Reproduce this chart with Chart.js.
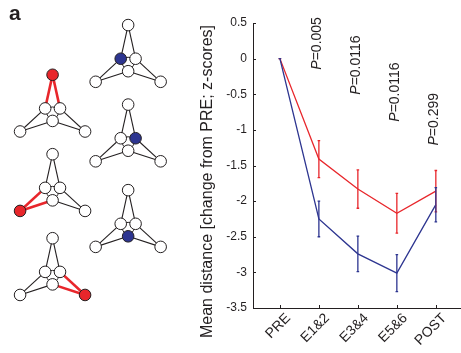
<!DOCTYPE html>
<html><head><meta charset="utf-8">
<script src="https://cdn.jsdelivr.net/npm/chart.js@4.4.0/dist/chart.umd.min.js"></script>
<style>
html,body{margin:0;padding:0;background:#fff;}
body{width:461px;height:353px;position:relative;overflow:hidden;font-family:"Liberation Sans",Arial,sans-serif;}
#panel{position:absolute;left:9px;top:1px;font:bold 21px "Liberation Sans",Arial,sans-serif;color:#231f20;}
#diag{position:absolute;left:0;top:0;}
#main{position:absolute;left:190px;top:0;}
</style></head><body>
<canvas id="diag" width="190" height="353"></canvas>
<canvas id="main" width="271" height="353"></canvas>
<div id="panel">a</div>
<script>
// ---- data ----
const categories = ['PRE', 'E1&2', 'E3&4', 'E5&6', 'POST'];
const redMean = [0, -1.41, -1.83, -2.17, -1.86];
const redErr = [0, 0.26, 0.27, 0.28, 0.29];
const blueMean = [0, -2.25, -2.74, -3.01, -2.05];
const blueErr = [0, 0.25, 0.25, 0.26, 0.24];
const yTicks = [0.5, 0, -0.5, -1, -1.5, -2, -2.5, -3, -3.5];
const yTitle = 'Mean distance [change from PRE; z-scores]';
const pValues = ['0.005', '0.0116', '0.0116', '0.299'];
const pCat = [1, 2, 3, 4];
const pY = [-0.155, -0.506, -0.885, -1.22];

// diagram layout (graph template + placements)
const nodeNames = ['T', 'BL', 'BR', 'C', 'L', 'R', 'B'];
const nodeDX = [0, -35, 35, 0, -8, 8, 0];
const nodeDY = [0, 59, 59, 39.5, 35, 35, 48];
const edges = [['T','L'],['T','R'],['BL','L'],['BL','B'],['BR','R'],['BR','B'],['L','C'],['R','C'],['B','C'],['L','R'],['L','B'],['R','B']];
const diagX = [49.3, 49.3, 49.3, 130.7, 130.7, 130.7];
const diagY = [70.7, 153.3, 240.7, 19, 101.7, 190.7];
const diagHighlight = ['T', 'BL', 'BR', 'L', 'R', 'B'];
const diagEdges = [['T-L', 'T-R'], ['BL-L', 'BL-B'], ['BR-R', 'BR-B'], ['L-R', 'L-B'], ['L-R', 'R-B'], ['L-B', 'R-B']];
const diagKind = ['red', 'red', 'red', 'blue', 'blue', 'blue'];

const RED = '#e8262b', BLUE = '#2d3590', INK = '#231f20';
const FONT = '"Liberation Sans", Arial, Helvetica, sans-serif';

// ---- diagrams ----
const dsets = [];
diagX.forEach((ox, d) => {
  const oy = diagY[d];
  const pos = n => { const i = nodeNames.indexOf(n); return {x: ox + nodeDX[i], y: oy + nodeDY[i]}; };
  const hl = diagHighlight[d];
  const col = diagKind[d] === 'red' ? RED : BLUE;
  edges.forEach(([a, b]) => {
    const isHl = diagEdges[d].includes(a + '-' + b);
    dsets.push({type: 'scatter', data: [pos(a), pos(b)], showLine: true, pointRadius: 0,
      borderColor: isHl ? col : INK, borderWidth: isHl ? (diagKind[d] === 'red' ? 2.6 : 2) : 1.1,
      order: isHl ? 1 : 2, clip: false});
  });
  dsets.push({type: 'scatter', data: nodeNames.map(pos), showLine: false, pointRadius: 5.8,
    pointBackgroundColor: nodeNames.map(n => n === hl ? col : '#fff'),
    pointBorderColor: INK, pointBorderWidth: 1, order: 0, clip: false});
});
new Chart(document.getElementById('diag'), {
  type: 'scatter', data: {datasets: dsets},
  options: {responsive: false, animation: false, events: [],
    plugins: {legend: {display: false}, tooltip: {enabled: false}},
    layout: {padding: 0},
    scales: {x: {type: 'linear', min: 0, max: 190, display: false},
             y: {type: 'linear', min: 0, max: 353, reverse: true, display: false}}}
});

// ---- main chart ----
const extras = {
  id: 'extras',
  afterDatasetsDraw(chart) {
    const ctx = chart.ctx, xs = chart.scales.x, ys = chart.scales.y;
    ctx.save();
    // inward ticks
    ctx.strokeStyle = INK; ctx.lineWidth = 1;
    yTicks.forEach(v => { const py = Math.round(ys.getPixelForValue(v)) + 0.5;
      ctx.beginPath(); ctx.moveTo(xs.left, py); ctx.lineTo(xs.left + 3, py); ctx.stroke(); });
    categories.forEach((c, i) => { const px = Math.round(xs.getPixelForValue(i + 1)) + 0.5;
      ctx.beginPath(); ctx.moveTo(px, ys.bottom); ctx.lineTo(px, ys.bottom - 3); ctx.stroke(); });
    // error bars
    const bars = (mean, err, col) => {
      ctx.strokeStyle = col; ctx.lineWidth = 1.3;
      mean.forEach((m, i) => {
        const px = xs.getPixelForValue(i + 1);
        const y1 = ys.getPixelForValue(m + err[i]), y2 = ys.getPixelForValue(m - err[i]);
        ctx.beginPath(); ctx.moveTo(px, y1); ctx.lineTo(px, y2);
        ctx.moveTo(px - 1.3, y1); ctx.lineTo(px + 1.3, y1);
        ctx.moveTo(px - 1.3, y2); ctx.lineTo(px + 1.3, y2); ctx.stroke();
      });
    };
    bars(redMean, redErr, RED);
    bars(blueMean, blueErr, BLUE);
    ctx.restore();
  },
  afterDraw(chart) {
    const ctx = chart.ctx, xs = chart.scales.x, ys = chart.scales.y;
    ctx.save();
    ctx.fillStyle = INK;
    // rotated category labels
    categories.forEach((c, i) => {
      const px = xs.getPixelForValue(i + 1);
      ctx.save(); ctx.translate(px + 8.5, ys.bottom + 8); ctx.rotate(-Math.PI / 4);
      ctx.textAlign = 'right'; ctx.textBaseline = 'middle';
      ctx.font = '14px ' + FONT; ctx.fillText(c, 0, 0);
      ctx.restore();
    });
    pValues.forEach((p, k) => {
      const px = xs.getPixelForValue(pCat[k] + 1) - 1.5;
      const py = ys.getPixelForValue(pY[k]);
      ctx.save(); ctx.translate(px, py); ctx.rotate(-Math.PI / 2);
      ctx.textBaseline = 'middle'; ctx.textAlign = 'left';
      ctx.font = 'italic 14px ' + FONT; ctx.fillText('P', 0, 0);
      const w = ctx.measureText('P').width;
      ctx.font = '14px ' + FONT; ctx.fillText('=' + p, w, 0);
      ctx.restore();
    });
    ctx.save(); ctx.translate(17.5, 181.5); ctx.rotate(-Math.PI / 2);
    ctx.textAlign = 'center'; ctx.textBaseline = 'middle';
    ctx.font = '16px ' + FONT; ctx.fillText(yTitle, 0, 0);
    ctx.restore();
    ctx.restore();
  }
};

new Chart(document.getElementById('main'), {
  type: 'line',
  data: {datasets: [
    {label: 'blue', data: blueMean.map((v, i) => ({x: i + 1, y: v})), borderColor: BLUE, borderWidth: 1.3, pointRadius: 0, tension: 0, fill: false},
    {label: 'red', data: redMean.map((v, i) => ({x: i + 1, y: v})), borderColor: RED, borderWidth: 1.3, pointRadius: 0, tension: 0, fill: false}
  ]},
  options: {responsive: false, animation: false, events: [],
    plugins: {legend: {display: false}, tooltip: {enabled: false}},
    layout: {padding: {top: 23, right: 1, left: 0, bottom: 0}},
    scales: {
      x: {type: 'linear', min: 0.31, max: 5.62,
        afterBuildTicks: s => { s.ticks = categories.map((c, i) => ({value: i + 1})); },
        afterFit: s => { s.height = 45; },
        grid: {display: false, drawTicks: false},
        border: {display: true, color: INK, width: 1},
        ticks: {display: false}},
      y: {type: 'linear', min: -3.5, max: 0.5,
        afterBuildTicks: s => { s.ticks = yTicks.map(v => ({value: v})); },
        afterFit: s => { s.width = 63; },
        grid: {display: false, drawTicks: false},
        border: {display: true, color: INK, width: 1},
        ticks: {padding: 6, color: INK, font: {family: FONT, size: 12}, callback: v => String(v)}}
    }},
  plugins: [extras]
});
</script>
</body></html>
